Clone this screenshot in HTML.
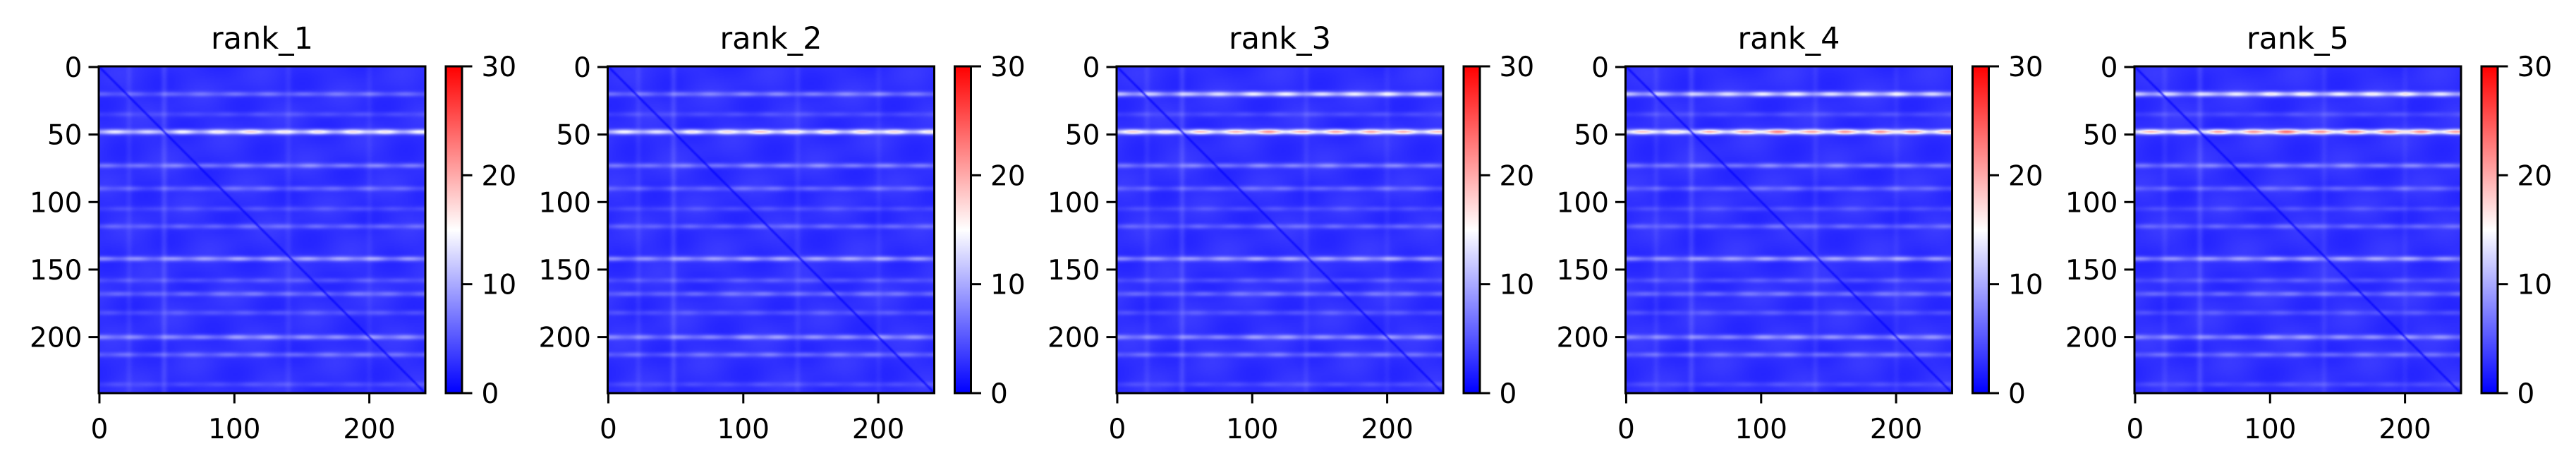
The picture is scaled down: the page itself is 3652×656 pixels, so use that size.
<!DOCTYPE html>
<html><head><meta charset="utf-8">
<style>
body{margin:0;background:#fff;}
#root{position:relative;width:3652px;height:656px;overflow:hidden;background:#fff;font-family:"DejaVu Sans","Liberation Sans",sans-serif;}
canvas.hm{position:absolute;image-rendering:auto;}
svg{position:absolute;left:0;top:0;}
</style></head>
<body>
<div id="root">
<svg id="ov" width="3652" height="656"></svg>
</div>
<script>
// ---- data ----
const panelTitles = ["rank_1","rank_2","rank_3","rank_4","rank_5"];
const gridSize = 242;
const baseValue = 2.8;
const bandRows = [20, 35, 48, 73, 90, 105, 118, 142, 158, 168, 182, 200, 213, 235];
const bandVals1 = [4, 2, 13, 5, 3.5, 2, 3.5, 7, 2.5, 4, 2.5, 6, 4, 2];
const bandVals2 = [5, 2, 14, 5, 3.5, 2, 3.5, 7, 2.5, 4, 2.5, 6, 4, 2];
const bandVals3 = [11, 2, 17, 5, 3.5, 2, 3.5, 7, 2.5, 4, 2.5, 6, 4, 2];
const bandVals4 = [11, 2, 18, 5, 3.5, 2, 3.5, 7, 2.5, 4, 2.5, 6, 4, 2];
const bandVals5 = [12, 2, 19, 5, 3.5, 2, 3.5, 7, 2.5, 4, 2.5, 6, 4, 2];
const colModCols = [0, 20, 40, 60, 80, 100, 120, 140, 160, 180, 200, 220, 240];
const colModVals = [0.85, 0.9, 0.75, 1.0, 0.9, 1.1, 1.15, 0.95, 1.1, 1.0, 1.1, 0.95, 0.95];
const stripeCols = [22, 48, 140, 200];
const stripeVals = [0.8, 1.4, 0.8, 0.6];
const xTicks = [0, 100, 200];
const yTicks = [0, 50, 100, 150, 200];
const cbTicks = [0, 10, 20, 30];
const vmin = 0, vmax = 30;
const allBands = [bandVals1, bandVals2, bandVals3, bandVals4, bandVals5];

// ---- layout ----
const axLeft0 = 140, axStep = 721.5, axTop = 94, axSize = 463;
const cbOff = 492, cbW = 23;
const FS = 39, TL = 14.5;
const NS = "http://www.w3.org/2000/svg";
const ov = document.getElementById('ov');
const root = document.getElementById('root');

function xScale(left, v){ return left + (v + 0.5) / gridSize * axSize; }
function yScale(v){ return axTop + (v + 0.5) / gridSize * axSize; }
function cbScale(v){ return axTop + axSize - (v - vmin) / (vmax - vmin) * axSize; }
function interpCol(c){
  for (let i = 0; i < colModCols.length - 1; i++) {
    if (c <= colModCols[i+1]) {
      const t = (c - colModCols[i]) / (colModCols[i+1] - colModCols[i]);
      return colModVals[i] * (1 - t) + colModVals[i+1] * t;
    }
  }
  return colModVals[colModVals.length - 1];
}
function bwr(v){
  let t = Math.max(0, Math.min(1, (v - vmin) / (vmax - vmin)));
  let r, g, b;
  if (t < 0.5) { const s = t / 0.5; r = 255 * s; g = 255 * s; b = 255; }
  else { const s = (t - 0.5) / 0.5; r = 255; g = 255 * (1 - s); b = 255 * (1 - s); }
  return [r, g, b];
}
function el(tag, attrs, parent){
  const e = document.createElementNS(NS, tag);
  for (const k in attrs) e.setAttribute(k, attrs[k]);
  (parent || ov).appendChild(e);
  return e;
}

panelTitles.forEach((title, p) => {
  const left = axLeft0 + p * axStep;
  const bands = allBands[p];
  const cv = document.createElement('canvas');
  
  
  cv.className = 'hm';
  cv.width = gridSize; cv.height = gridSize;
  cv.style.left = left + 'px'; cv.style.top = axTop + 'px';
  cv.style.width = axSize + 'px'; cv.style.height = axSize + 'px';
  const ctx = cv.getContext('2d');
  const img = ctx.createImageData(gridSize, gridSize);
  for (let r = 0; r < gridSize; r++) {
    for (let c = 0; c < gridSize; c++) {
      let v = baseValue + 0.6 * Math.sin(c * 0.09 + r * 0.05) * Math.cos(r * 0.11 - c * 0.03);
      const cm = interpCol(c);
      for (let k = 0; k < bandRows.length; k++) {
        const d = r - bandRows[k];
        if (Math.abs(d) < 8) v += bands[k] * Math.exp(-d * d / 3.5) * cm * (0.8 + 0.2 * Math.cos(c * 0.25 + k * 1.7));
      }
      for (let k = 0; k < stripeCols.length; k++) {
        const d = c - stripeCols[k];
        if (Math.abs(d) < 8) v += stripeVals[k] * Math.exp(-d * d / 5);
      }
      const dd = Math.abs(r - c);
      if (dd < 2) v *= 0.25 + 0.375 * dd;
      const [R, G, B] = bwr(v);
      const i = (r * gridSize + c) * 4;
      img.data[i] = R; img.data[i+1] = G; img.data[i+2] = B; img.data[i+3] = 255;
    }
  }
  ctx.putImageData(img, 0, 0);
  root.insertBefore(cv, ov);

  const g = el('g', {});
  
  
  const t = el('text', {x: left + axSize / 2, y: 69, 'font-size': 43, 'text-anchor': 'middle', fill: '#000'}, g);
  t.textContent = title;
  
  
  const fr = el('rect', {x: left, y: axTop, width: axSize, height: axSize, fill: 'none', stroke: '#000', 'stroke-width': 3}, g);
  
  
  xTicks.forEach(v => {
    const x = xScale(left, v);
    const ln = el('line', {x1: x, x2: x, y1: axTop + axSize, y2: axTop + axSize + TL, stroke: '#000', 'stroke-width': 3}, g);
    
    
    const tx = el('text', {x: x, y: 621, 'font-size': FS, 'text-anchor': 'middle'}, g);
    tx.textContent = v;
    
    
  });
  yTicks.forEach(v => {
    const y = yScale(v);
    const ln = el('line', {x1: left - TL, x2: left, y1: y, y2: y, stroke: '#000', 'stroke-width': 3}, g);
    
    
    const tx = el('text', {x: left - TL - 9, y: y + 14, 'font-size': FS, 'text-anchor': 'end'}, g);
    tx.textContent = v;
    
    
  });
  const cbx = left + cbOff;
  const gid = 'grad' + p;
  const defs = el('defs', {}, g);
  const lg = el('linearGradient', {id: gid, x1: 0, y1: 1, x2: 0, y2: 0}, defs);
  el('stop', {offset: '0', 'stop-color': '#0000ff'}, lg);
  el('stop', {offset: '0.5', 'stop-color': '#ffffff'}, lg);
  el('stop', {offset: '1', 'stop-color': '#ff0000'}, lg);
  const cb = el('rect', {x: cbx, y: axTop, width: cbW, height: axSize, fill: 'url(#' + gid + ')', stroke: '#000', 'stroke-width': 3}, g);
  
  
  cbTicks.forEach(v => {
    const y = cbScale(v);
    const ln = el('line', {x1: cbx + cbW, x2: cbx + cbW + TL, y1: y, y2: y, stroke: '#000', 'stroke-width': 3}, g);
    
    
    const tx = el('text', {x: cbx + cbW + TL + 13, y: y + 14, 'font-size': FS}, g);
    tx.textContent = v;
    
    
  });
});
</script>
</body></html>
